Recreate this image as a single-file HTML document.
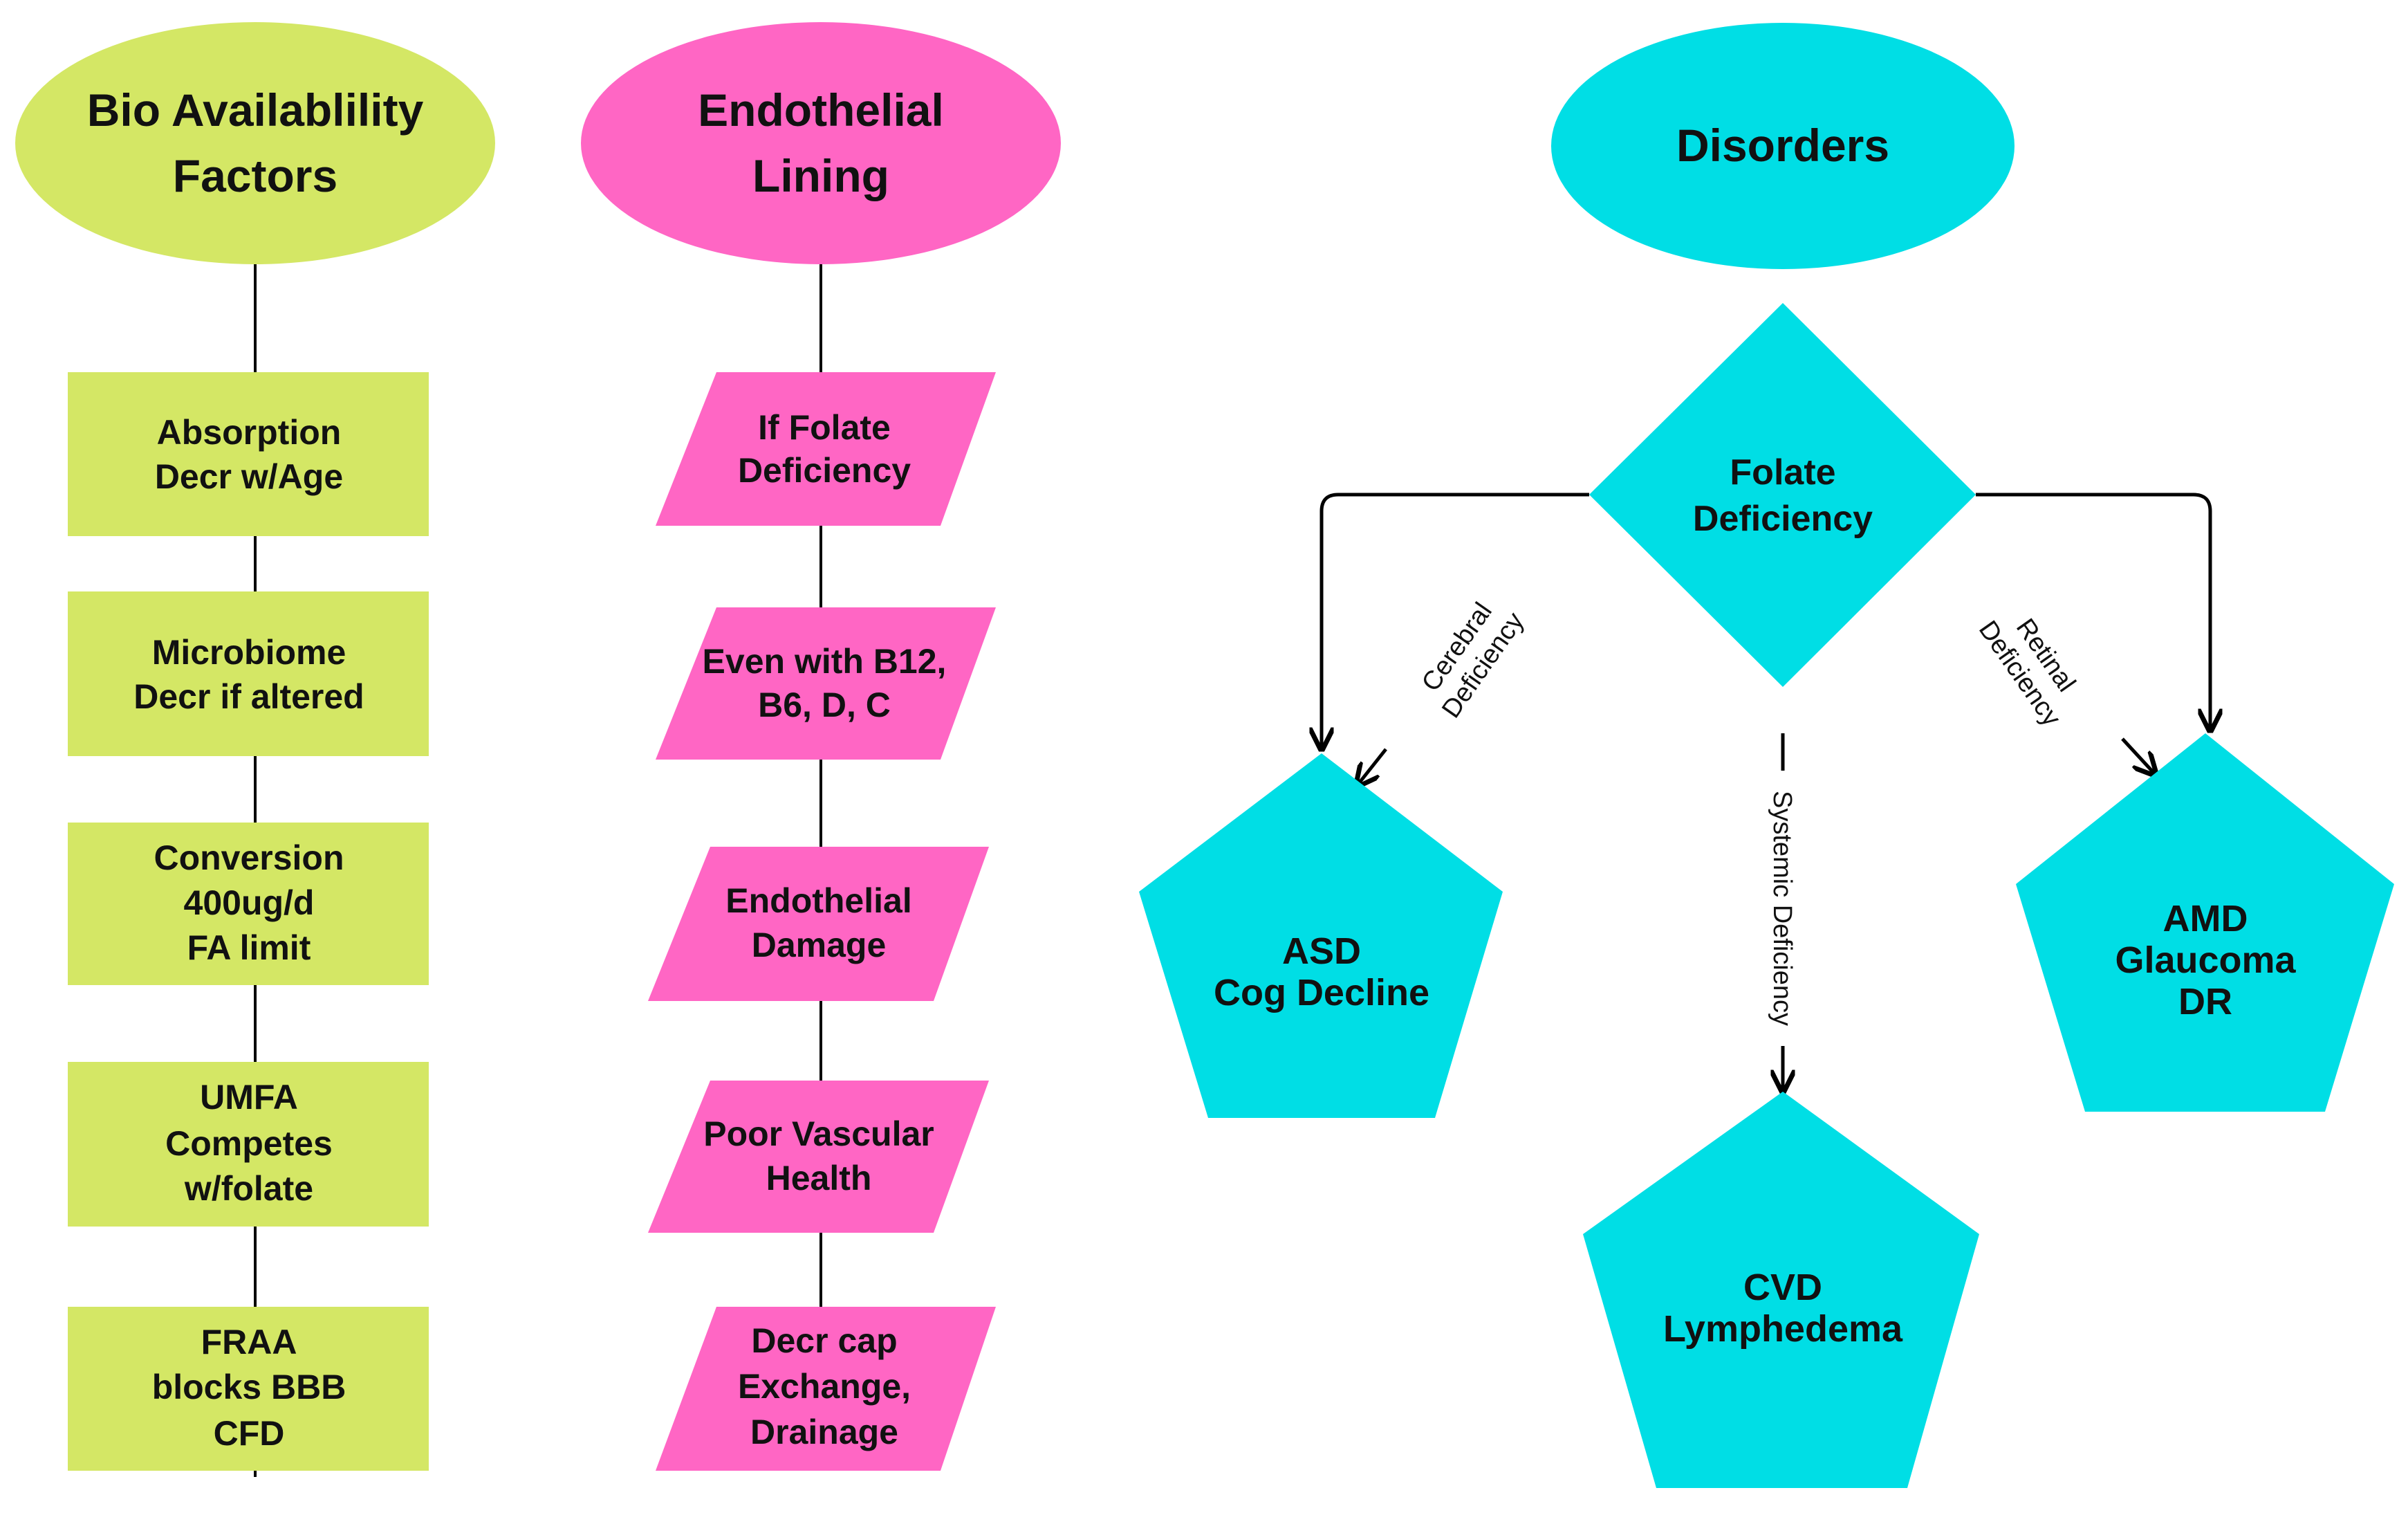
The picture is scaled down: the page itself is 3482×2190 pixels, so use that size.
<!DOCTYPE html>
<html><head><meta charset="utf-8"><style>
html,body{margin:0;padding:0;background:#fff;}
svg{display:block;}
.t{font-family:"Liberation Sans",sans-serif;font-weight:bold;fill:#111;text-anchor:middle;}
.l{font-family:"Liberation Sans",sans-serif;fill:#111;text-anchor:middle;font-size:38px;}
</style></head><body>
<svg width="3482" height="2190" viewBox="0 0 3482 2190" xmlns="http://www.w3.org/2000/svg">
<defs><marker id="ah" viewBox="0 0 10 10" refX="9" refY="5" markerWidth="7" markerHeight="7" orient="auto"><path d="M0,0 L10,5 L0,10" fill="none" stroke="#000" stroke-width="2"/></marker></defs>
<g stroke="#000" stroke-width="4">
<line x1="369" y1="382" x2="369" y2="2135"/>
<line x1="1187" y1="382" x2="1187" y2="1889"/>
</g>
<ellipse cx="369" cy="207" rx="347" ry="175" fill="#d4e765"/>
<text class="t" font-size="66" x="369" y="182">Bio Availablility</text>
<text class="t" font-size="66" x="369" y="277">Factors</text>
<g fill="#d4e765">
<rect x="98" y="538" width="522" height="237"/>
<rect x="98" y="855" width="522" height="238"/>
<rect x="98" y="1189" width="522" height="235"/>
<rect x="98" y="1535" width="522" height="238"/>
<rect x="98" y="1889" width="522" height="237"/>
</g>
<g class="t" font-size="50">
<text x="360" y="642">Absorption</text><text x="360" y="706">Decr w/Age</text>
<text x="360" y="960">Microbiome</text><text x="360" y="1024">Decr if altered</text>
<text x="360" y="1257">Conversion</text><text x="360" y="1322">400ug/d</text><text x="360" y="1387">FA limit</text>
<text x="360" y="1603">UMFA</text><text x="360" y="1670">Competes</text><text x="360" y="1735">w/folate</text>
<text x="360" y="1957">FRAA</text><text x="360" y="2022">blocks BBB</text><text x="360" y="2089">CFD</text>
</g>
<ellipse cx="1187" cy="207" rx="347" ry="175" fill="#ff66c4"/>
<text class="t" font-size="66" x="1187" y="182">Endothelial</text>
<text class="t" font-size="66" x="1187" y="277">Lining</text>
<g fill="#ff66c4">
<polygon points="1036,538 1440,538 1360,760 948,760"/>
<polygon points="1036,878 1440,878 1360,1098 948,1098"/>
<polygon points="1027,1224 1430,1224 1350,1447 937,1447"/>
<polygon points="1027,1562 1430,1562 1350,1782 937,1782"/>
<polygon points="1036,1889 1440,1889 1360,2126 948,2126"/>
</g>
<g class="t" font-size="50">
<text x="1192" y="635">If Folate</text><text x="1192" y="697">Deficiency</text>
<text x="1192" y="973">Even with B12,</text><text x="1192" y="1036">B6, D, C</text>
<text x="1184" y="1319">Endothelial</text><text x="1184" y="1383">Damage</text>
<text x="1184" y="1656">Poor Vascular</text><text x="1184" y="1720">Health</text>
<text x="1192" y="1955">Decr cap</text><text x="1192" y="2021">Exchange,</text><text x="1192" y="2087">Drainage</text>
</g>
<ellipse cx="2578" cy="211" rx="335" ry="178" fill="#00dee5"/>
<text class="t" font-size="66" x="2578" y="233">Disorders</text>
<polygon points="2578,438 2857,715 2578,993 2298,715" fill="#00dee5"/>
<text class="t" font-size="52" x="2578" y="700">Folate</text>
<text class="t" font-size="52" x="2578" y="767">Deficiency</text>
<g fill="none" stroke="#000" stroke-width="5">
<path d="M2298,715 H1935 Q1911,715 1911,739 V1083" marker-end="url(#ah)"/>
<path d="M2857,715 H3172 Q3196,715 3196,739 V1056" marker-end="url(#ah)"/>
<path d="M2004,1083 L1962,1136" marker-end="url(#ah)"/>
<path d="M3069,1068 L3117,1120" marker-end="url(#ah)"/>
<line x1="2578" y1="1060" x2="2578" y2="1114"/>
<path d="M2578,1512 V1578" marker-end="url(#ah)"/>
</g>
<text class="l" font-size="40" transform="translate(2578,1313) rotate(90)" y="13">Systemic Deficiency</text>
<text class="l" transform="translate(2125,948) rotate(-55)"><tspan x="0" y="-10">Cerebral</tspan><tspan x="0" y="36">Deficiency</tspan></text>
<text class="l" transform="translate(2940,960) rotate(55)"><tspan x="0" y="-10">Retinal</tspan><tspan x="0" y="36">Deficiency</tspan></text>
<g fill="#00dee5">
<polygon points="1911,1089 2173,1289 2075,1616 1747,1616 1647,1289"/>
<polygon points="3189,1060 3462,1278 3362,1607 3015,1607 2915,1278"/>
<polygon points="2578,1578 2862,1784 2758,2151 2395,2151 2289,1784"/>
</g>
<g class="t" font-size="54">
<text x="1911" y="1393">ASD</text><text x="1911" y="1453">Cog Decline</text>
<text x="3189" y="1346">AMD</text><text x="3189" y="1406">Glaucoma</text><text x="3189" y="1466">DR</text>
<text x="2578" y="1879">CVD</text><text x="2578" y="1939">Lymphedema</text>
</g>
</svg>
</body></html>
